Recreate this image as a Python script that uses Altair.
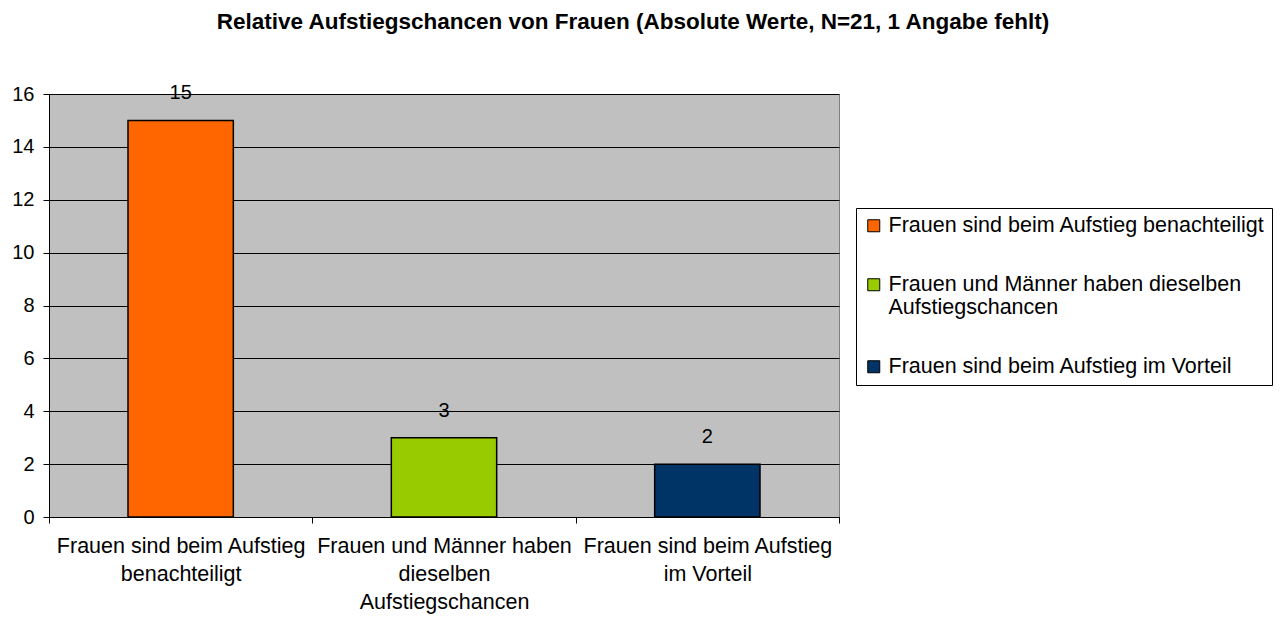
import altair as alt
import pandas as pd

title_text = "Relative Aufstiegschancen von Frauen (Absolute Werte, N=21, 1 Angabe fehlt)"
categories = [
    "Frauen sind beim Aufstieg benachteiligt",
    "Frauen und Männer haben dieselben Aufstiegschancen",
    "Frauen sind beim Aufstieg im Vorteil",
]
axis_labels = [
    "Frauen sind beim Aufstieg|benachteiligt",
    "Frauen und Männer haben|dieselben|Aufstiegschancen",
    "Frauen sind beim Aufstieg|im Vorteil",
]
legend_labels = [
    "Frauen sind beim Aufstieg benachteiligt",
    "Frauen und Männer haben dieselben|Aufstiegschancen",
    "Frauen sind beim Aufstieg im Vorteil",
]
values = [15, 3, 2]
colors = ["#FF6600", "#99CC00", "#003366"]
y_ticks = [0, 2, 4, 6, 8, 10, 12, 14, 16]

df = pd.DataFrame({
    "category": categories,
    "xlabel": axis_labels,
    "leg": legend_labels,
    "value": values,
})

FONT = "Liberation Sans"

x_enc = alt.X(
    "xlabel:N",
    sort=axis_labels,
    scale=alt.Scale(paddingInner=0, paddingOuter=0),
    axis=alt.Axis(
        title=None,
        labelAngle=0,
        labelExpr="split(datum.label, '|')",
        labelFont=FONT,
        labelFontSize=21.5,
        labelColor="#000000",
        labelLineHeight=28,
        labelPadding=12,
        labelLimit=400,
        labelBaseline="top",
        tickBand="extent",
        tickSize=6,
        tickColor="#000000",
        domainColor="#000000",
        grid=False,
    ),
)

y_enc = alt.Y(
    "value:Q",
    scale=alt.Scale(domain=[0, 16], nice=False),
    axis=alt.Axis(
        title=None,
        values=y_ticks,
        labelFont=FONT,
        labelFontSize=20,
        labelColor="#000000",
        labelPadding=9,
        tickSize=6,
        tickColor="#000000",
        domainColor="#000000",
        grid=True,
        gridColor="#000000",
        gridWidth=1,
    ),
)

bars = alt.Chart(df).mark_bar(
    width={"band": 0.4}, stroke="#000000", strokeWidth=1.5
).encode(
    x=x_enc,
    y=y_enc,
    color=alt.Color(
        "leg:N",
        sort=legend_labels,
        scale=alt.Scale(domain=legend_labels, range=colors),
        legend=alt.Legend(
            title=None,
            orient="none",
            legendX=807,
            legendY=114,
            labelExpr="split(datum.label, '|')",
            labelFont=FONT,
            labelFontSize=21.5,
            labelColor="#000000",
            labelLimit=500,
            symbolType="square",
            symbolSize=144,
            symbolStrokeColor="#000000",
            symbolStrokeWidth=1,
            symbolOffset=0,
            labelOffset=4,
            rowPadding=36,
            padding=7,
            strokeColor="#000000",
            fillColor="#FFFFFF",
        ),
    ),
)

texts = alt.Chart(df).mark_text(
    dy=-27, font=FONT, fontSize=20, color="#000000", baseline="middle"
).encode(
    x=alt.X("xlabel:N", sort=axis_labels),
    y=alt.Y("value:Q"),
    text=alt.Text("value:Q"),
)

chart = alt.layer(bars, texts).properties(
    width=790,
    height=423,
    title=alt.TitleParams(
        text=title_text,
        font=FONT,
        fontSize=22.5,
        fontWeight="bold",
        color="#000000",
        anchor="middle",
        frame="group",
        dx=189,
        offset=27,
        baseline="bottom",
    ),
    autosize=alt.AutoSizeParams(type="none"),
    padding={"left": 41, "top": 86, "right": 434, "bottom": 98},
).configure(
    background="#FFFFFF"
).configure_view(
    fill="#C0C0C0", stroke="#808080", strokeWidth=1
)

chart.save("out.html", embed_options={"renderer": "svg", "actions": False})
